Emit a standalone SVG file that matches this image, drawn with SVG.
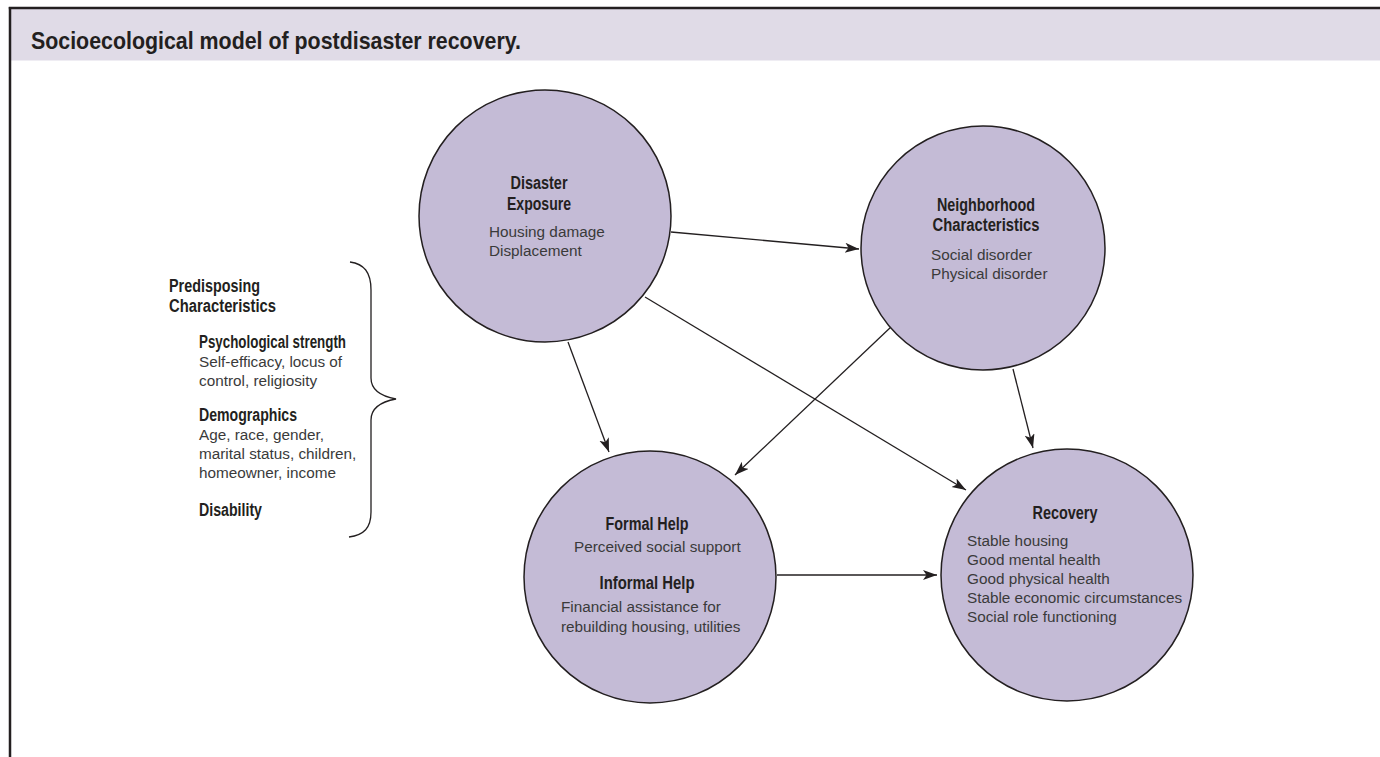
<svg xmlns="http://www.w3.org/2000/svg" width="1380" height="757" viewBox="0 0 1380 757">
<defs>
<style>
.node circle{fill:#c4bbd6;stroke:#231f20;stroke-width:1.5}
.b{font-family:"Liberation Sans Narrow","Liberation Sans",Arial,sans-serif;font-weight:bold;font-size:18px;fill:#231f20}
.n{font-family:"Liberation Sans",Arial,sans-serif;font-size:15.3px;fill:#3a3a3a}
.c{text-anchor:middle}
.conn line{stroke:#231f20;stroke-width:1.3;fill:none}
</style>
<marker id="ah" markerUnits="userSpaceOnUse" markerWidth="16" markerHeight="12" refX="14" refY="5" orient="auto">
<path d="M0,0 L14,5 L0,10 L3.5,5 Z" fill="#231f20"/>
</marker>
</defs>
<rect x="0" y="0" width="1380" height="757" fill="#ffffff"/>
<g id="frame">
<rect x="11" y="9" width="1369" height="51.5" fill="#e0dbe7"/>
<line x1="8.8" y1="8" x2="1380" y2="8" stroke="#231f20" stroke-width="2.5"/>
<line x1="10" y1="7" x2="10" y2="757" stroke="#231f20" stroke-width="2.5"/>
<text x="31" y="49" font-family="'Liberation Sans Narrow','Liberation Sans',Arial,sans-serif" font-weight="bold" font-size="24.5" fill="#231f20" textLength="490" lengthAdjust="spacingAndGlyphs">Socioecological model of postdisaster recovery.</text>
</g>
<g id="connectors" class="conn">
<line x1="671" y1="232" x2="859" y2="249" marker-end="url(#ah)"/>
<line x1="645" y1="297" x2="966" y2="490" marker-end="url(#ah)"/>
<line x1="568" y1="342" x2="609" y2="452" marker-end="url(#ah)"/>
<line x1="892" y1="326" x2="735" y2="475" marker-end="url(#ah)"/>
<line x1="1013" y1="369" x2="1033" y2="448" marker-end="url(#ah)"/>
<line x1="777" y1="575" x2="937" y2="575" marker-end="url(#ah)"/>
</g>
<g id="predisposing">
<path d="M350,262 C364,264 371,272 371,290 L371,378 C371,392 385,397 396,399 C385,401 371,406 371,420 L371,512 C371,528 364,535 349,537" fill="none" stroke="#231f20" stroke-width="1.3"/>
<text class="b" x="169" y="292" textLength="91" lengthAdjust="spacingAndGlyphs">Predisposing</text>
<text class="b" x="169" y="312" textLength="107" lengthAdjust="spacingAndGlyphs">Characteristics</text>
<text class="b" x="199" y="348" textLength="147" lengthAdjust="spacingAndGlyphs">Psychological strength</text>
<text class="n" x="199" y="367">Self-efficacy, locus of</text>
<text class="n" x="199" y="386">control, religiosity</text>
<text class="b" x="199" y="421" textLength="98" lengthAdjust="spacingAndGlyphs">Demographics</text>
<text class="n" x="199" y="440">Age, race, gender,</text>
<text class="n" x="199" y="459">marital status, children,</text>
<text class="n" x="199" y="478">homeowner, income</text>
<text class="b" x="199" y="516" textLength="63" lengthAdjust="spacingAndGlyphs">Disability</text>
</g>
<g id="disaster-exposure" class="node">
<circle cx="545" cy="216" r="126"/>
<text class="b c" x="539" y="189" textLength="57" lengthAdjust="spacingAndGlyphs">Disaster</text>
<text class="b c" x="539" y="210" textLength="64" lengthAdjust="spacingAndGlyphs">Exposure</text>
<text class="n" x="489" y="237">Housing damage</text>
<text class="n" x="489" y="256">Displacement</text>
</g>
<g id="neighborhood" class="node">
<circle cx="983" cy="248" r="122"/>
<text class="b c" x="986" y="211" textLength="98" lengthAdjust="spacingAndGlyphs">Neighborhood</text>
<text class="b c" x="986" y="231" textLength="107" lengthAdjust="spacingAndGlyphs">Characteristics</text>
<text class="n" x="931" y="260">Social disorder</text>
<text class="n" x="931" y="279">Physical disorder</text>
</g>
<g id="help" class="node">
<circle cx="650" cy="577" r="126"/>
<text class="b c" x="647" y="530" textLength="83" lengthAdjust="spacingAndGlyphs">Formal Help</text>
<text class="n" x="574" y="552">Perceived social support</text>
<text class="b c" x="647" y="589" textLength="95" lengthAdjust="spacingAndGlyphs">Informal Help</text>
<text class="n" x="561" y="612">Financial assistance for</text>
<text class="n" x="561" y="632">rebuilding housing, utilities</text>
</g>
<g id="recovery" class="node">
<circle cx="1067" cy="575" r="126"/>
<text class="b c" x="1065" y="519" textLength="65" lengthAdjust="spacingAndGlyphs">Recovery</text>
<text class="n" x="967" y="546">Stable housing</text>
<text class="n" x="967" y="565">Good mental health</text>
<text class="n" x="967" y="584">Good physical health</text>
<text class="n" x="967" y="603">Stable economic circumstances</text>
<text class="n" x="967" y="622">Social role functioning</text>
</g>
</svg>
